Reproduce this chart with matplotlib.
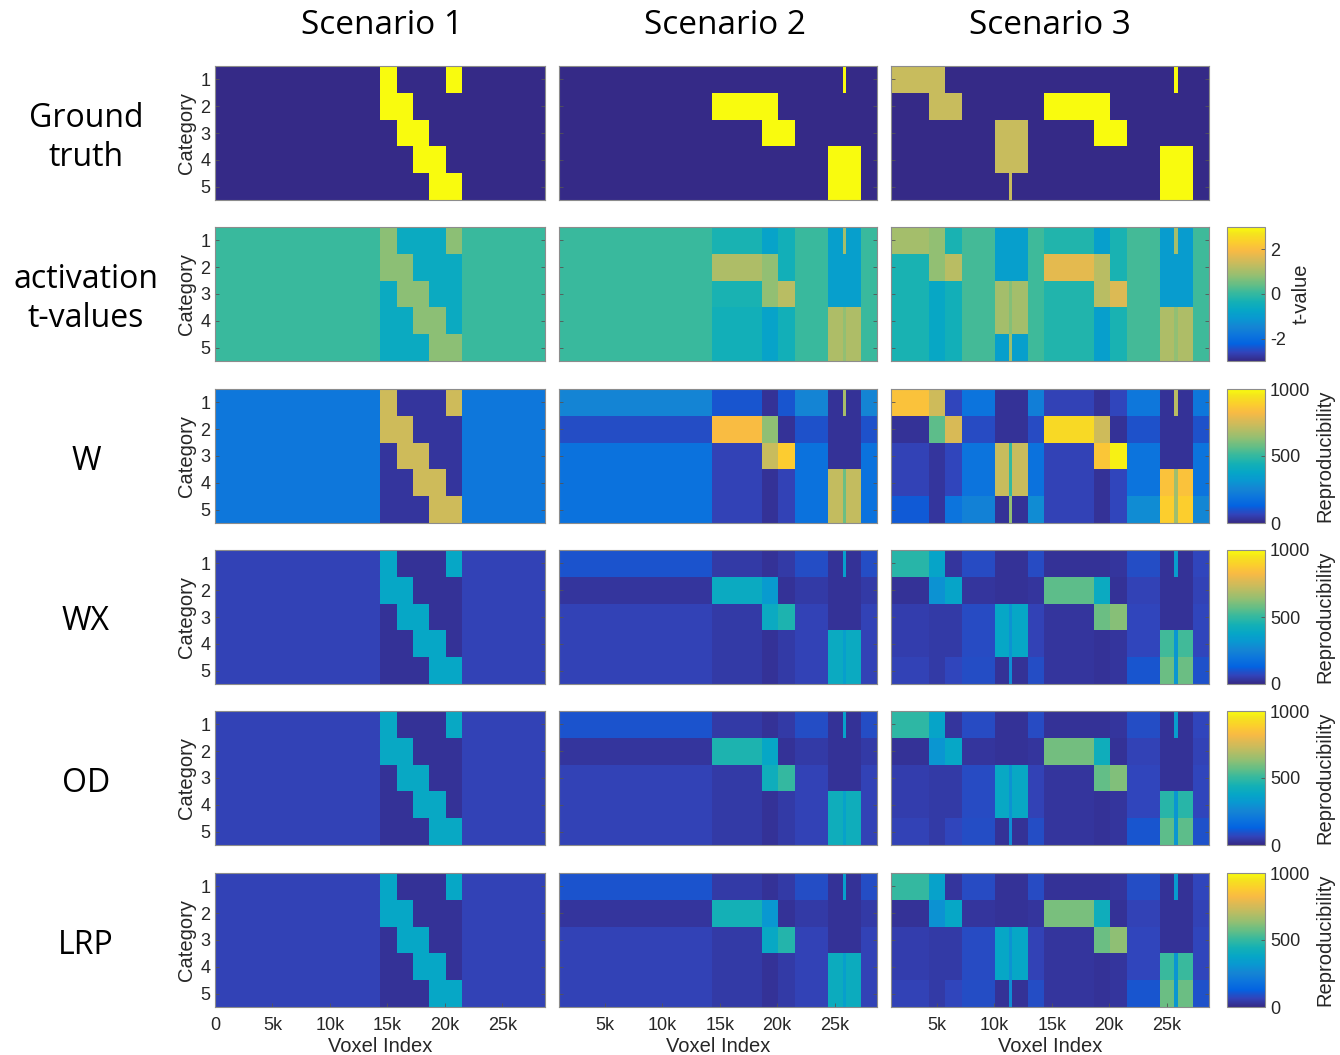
import matplotlib
matplotlib.use("Agg")
import matplotlib.pyplot as plt
from matplotlib.colors import LinearSegmentedColormap

# voxel segment edges per scenario (x range of each uniform block)
S1_EDGES = [0, 14360, 15790, 17220, 18650, 20080, 21510, 28700]
S2_EDGES = [1000, 14370, 18690, 20080, 21530, 24450, 25730, 26020, 27300, 28700]
S3_EDGES = [1000, 4290, 5700, 7210, 10040, 11290, 11580, 12920, 14370,
            18680, 20110, 21530, 24410, 25670, 26020, 27270, 28700]

# ground truth (0 = none, 0.73 = weak, 1 = strong), rows = category 1..5
GT_S1 = [[0, 1, 0, 0, 0, 1, 0],
         [0, 1, 1, 0, 0, 0, 0],
         [0, 0, 1, 1, 0, 0, 0],
         [0, 0, 0, 1, 1, 0, 0],
         [0, 0, 0, 0, 1, 1, 0]]
GT_S2 = [[0, 0, 0, 0, 0, 0, 1, 0, 0],
         [0, 1, 1, 0, 0, 0, 0, 0, 0],
         [0, 0, 1, 1, 0, 0, 0, 0, 0],
         [0, 0, 0, 0, 0, 1, 1, 1, 0],
         [0, 0, 0, 0, 0, 1, 1, 1, 0]]
GT_S3 = [[.73, .73, 0, 0, 0, 0, 0, 0, 0, 0, 0, 0, 0, 1, 0, 0],
         [0, .73, .73, 0, 0, 0, 0, 0, 1, 1, 0, 0, 0, 0, 0, 0],
         [0, 0, 0, 0, .73, .73, .73, 0, 0, 1, 1, 0, 0, 0, 0, 0],
         [0, 0, 0, 0, .73, .73, .73, 0, 0, 0, 0, 0, 1, 1, 1, 0],
         [0, 0, 0, 0, 0, .73, 0, 0, 0, 0, 0, 0, 1, 1, 1, 0]]

# activation t-values
TV_S1 = [[0.05, 0.75, -0.6, -0.6, -0.6, 0.75, 0.05],
         [0.05, 0.75, 0.75, -0.6, -0.6, -0.6, 0.05],
         [0.05, -0.6, 0.75, 0.75, -0.6, -0.6, 0.05],
         [0.05, -0.6, -0.6, 0.75, 0.75, -0.6, 0.05],
         [0.05, -0.6, -0.6, -0.6, 0.75, 0.75, 0.05]]
TV_S2 = [[0.05, -0.3, -0.8, -0.4, 0.05, -0.9, 1.0, -0.9, 0.05],
         [0.05, 1.1, 0.8, -0.4, 0.05, -0.9, -0.9, -0.9, 0.05],
         [0.05, -0.3, 0.8, 1.2, 0.05, -0.9, -0.9, -0.9, 0.05],
         [0.05, -0.4, -0.8, -0.4, 0.05, 1.1, 0.8, 1.1, 0.05],
         [0.05, -0.4, -0.8, -0.4, 0.05, 1.1, 0.8, 1.1, 0.05]]
TV_S3 = [[1.0, 0.8, -0.3, 0.15, -0.9, -0.9, -0.9, 0.1, -0.2, -0.9, -0.3, 0.15, -1.0, 1.0, -1.0, 0.1],
         [-0.3, 0.8, 1.2, 0.15, -0.9, -0.9, -0.9, 0.1, 1.7, 1.2, -0.3, 0.15, -1.0, -1.0, -1.0, 0.1],
         [-0.3, -0.7, -0.4, 0.15, 1.0, 0.7, 1.0, 0.1, -0.2, 1.2, 1.6, 0.15, -1.0, -1.0, -1.0, 0.1],
         [-0.3, -0.7, -0.4, 0.15, 1.0, 0.7, 1.0, 0.1, -0.2, -0.9, -0.3, 0.15, 1.1, 0.8, 1.1, 0.1],
         [-0.3, -0.7, -0.4, 0.15, -0.9, 0.9, -0.9, 0.1, -0.2, -0.9, -0.3, 0.15, 1.1, 0.8, 1.1, 0.1]]

# reproducibility maps
W_S1 = [[200, 740, 30, 30, 30, 740, 200],
        [200, 740, 740, 30, 30, 30, 200],
        [200, 30, 740, 740, 30, 30, 200],
        [200, 30, 30, 740, 740, 30, 200],
        [200, 30, 30, 30, 740, 740, 200]]
W_S2 = [[250, 100, 20, 100, 250, 20, 670, 20, 250],
        [85, 830, 630, 20, 90, 20, 20, 20, 90],
        [180, 60, 730, 880, 180, 20, 20, 20, 180],
        [180, 60, 20, 60, 180, 720, 580, 720, 180],
        [180, 60, 20, 60, 180, 720, 580, 720, 180]]
W_S3 = [[850, 740, 70, 190, 20, 20, 20, 230, 60, 20, 70, 200, 20, 700, 20, 200],
        [20, 560, 760, 80, 20, 20, 20, 80, 920, 740, 20, 90, 20, 20, 20, 90],
        [60, 30, 70, 190, 730, 500, 730, 180, 60, 860, 980, 190, 20, 20, 20, 190],
        [60, 30, 70, 190, 730, 500, 730, 180, 60, 20, 70, 190, 850, 660, 850, 190],
        [110, 30, 190, 240, 20, 640, 20, 280, 60, 20, 70, 280, 890, 660, 890, 260]]

WX_S1 = [[60, 380, 20, 20, 20, 380, 60],
         [60, 380, 380, 20, 20, 20, 60],
         [60, 20, 380, 380, 20, 20, 60],
         [60, 20, 20, 380, 380, 20, 60],
         [60, 20, 20, 20, 380, 380, 60]]
WX_S2 = [[95, 40, 20, 40, 85, 20, 350, 20, 85],
         [30, 400, 330, 20, 40, 20, 20, 20, 40],
         [60, 40, 400, 460, 60, 20, 20, 20, 60],
         [60, 40, 20, 40, 60, 400, 350, 400, 60],
         [60, 40, 20, 40, 60, 400, 350, 400, 60]]
WX_S3 = [[480, 370, 30, 80, 20, 20, 20, 80, 20, 20, 30, 85, 20, 340, 20, 70],
         [20, 300, 370, 30, 20, 20, 20, 30, 560, 400, 20, 60, 20, 20, 20, 60],
         [50, 40, 40, 80, 380, 300, 380, 60, 30, 580, 620, 70, 20, 20, 20, 70],
         [50, 40, 40, 80, 380, 300, 380, 60, 30, 20, 30, 70, 520, 310, 520, 70],
         [60, 40, 70, 85, 20, 280, 20, 85, 30, 20, 30, 100, 580, 310, 580, 90]]

OD_S1 = [[60, 390, 20, 20, 20, 390, 60],
         [60, 390, 390, 20, 20, 20, 60],
         [60, 20, 390, 390, 20, 20, 60],
         [60, 20, 20, 390, 390, 20, 60],
         [60, 20, 20, 20, 390, 390, 60]]
OD_S2 = [[95, 40, 20, 40, 85, 20, 360, 20, 85],
         [30, 460, 380, 20, 40, 20, 20, 20, 40],
         [60, 40, 420, 500, 60, 20, 20, 20, 60],
         [60, 40, 20, 40, 60, 420, 360, 420, 60],
         [60, 40, 20, 40, 60, 420, 360, 420, 60]]
OD_S3 = [[490, 370, 30, 80, 20, 20, 20, 80, 20, 20, 30, 85, 20, 340, 20, 70],
         [20, 310, 380, 30, 20, 20, 20, 30, 590, 420, 20, 60, 20, 20, 20, 60],
         [50, 40, 40, 80, 390, 300, 390, 60, 30, 570, 610, 70, 20, 20, 20, 70],
         [50, 40, 40, 80, 390, 300, 390, 60, 30, 20, 30, 70, 480, 310, 480, 70],
         [60, 40, 70, 85, 20, 280, 20, 85, 30, 20, 30, 100, 560, 310, 560, 90]]

LRP_S1 = [[60, 380, 20, 20, 20, 380, 60],
          [60, 380, 380, 20, 20, 20, 60],
          [60, 20, 380, 380, 20, 20, 60],
          [60, 20, 20, 380, 380, 20, 60],
          [60, 20, 20, 20, 380, 380, 60]]
LRP_S2 = [[95, 40, 20, 40, 85, 20, 350, 20, 85],
          [30, 440, 320, 20, 40, 20, 20, 20, 40],
          [60, 40, 390, 470, 60, 20, 20, 20, 60],
          [60, 40, 20, 40, 60, 410, 350, 410, 60],
          [60, 40, 20, 40, 60, 410, 350, 410, 60]]
LRP_S3 = [[500, 360, 30, 80, 20, 20, 20, 80, 20, 20, 30, 85, 20, 330, 20, 70],
          [20, 300, 380, 30, 20, 20, 20, 30, 600, 420, 20, 60, 20, 20, 20, 60],
          [50, 40, 40, 80, 380, 300, 380, 60, 30, 580, 630, 70, 20, 20, 20, 70],
          [50, 40, 40, 80, 380, 300, 380, 60, 30, 20, 30, 70, 510, 310, 510, 70],
          [60, 40, 70, 85, 20, 280, 20, 85, 30, 20, 30, 100, 580, 310, 580, 90]]

ROW_NAMES = ["Ground\ntruth", "activation\nt-values", "W", "WX", "OD", "LRP"]
SCENARIOS = ["Scenario 1", "Scenario 2", "Scenario 3"]
EDGES = [S1_EDGES, S2_EDGES, S3_EDGES]
MAPS = [[GT_S1, GT_S2, GT_S3],
        [TV_S1, TV_S2, TV_S3],
        [W_S1, W_S2, W_S3],
        [WX_S1, WX_S2, WX_S3],
        [OD_S1, OD_S2, OD_S3],
        [LRP_S1, LRP_S2, LRP_S3]]
LIMITS = [(0, 1), (-3, 3), (0, 1000), (0, 1000), (0, 1000), (0, 1000)]

# MATLAB parula, sampled
PARULA = [(0.2081, 0.1663, 0.5292), (0.1959, 0.2645, 0.7279), (0.0117, 0.3875, 0.8820),
          (0.0498, 0.4586, 0.8641), (0.0793, 0.5200, 0.8312), (0.0343, 0.5966, 0.8199),
          (0.0228, 0.6535, 0.7768), (0.0843, 0.6928, 0.7062), (0.2178, 0.7250, 0.6193),
          (0.3953, 0.7459, 0.5244), (0.5709, 0.7485, 0.4494), (0.7184, 0.7411, 0.3905),
          (0.8507, 0.7299, 0.3360), (0.9739, 0.7314, 0.2666), (0.9880, 0.8066, 0.1794),
          (0.9589, 0.8949, 0.1132), (0.9763, 0.9831, 0.0538)]
pos = [i / 63 for i in range(0, 61, 4)] + [1.0]
parula = LinearSegmentedColormap.from_list("parula", list(zip(pos, PARULA)))

W_PX, H_PX = 1340, 1055
ROW_TOPS = [66, 227, 389, 550, 711, 873]
ROW_H = 134
COL_LEFTS = [215, 559, 891]
COL_W = [330, 318, 318]
CB_LEFT, CB_W = 1227, 38
EDGE_COLOR = "#8c8c8c"
TICK_FONT = "Liberation Sans"
BIG_FONT = "Open Sans"


def rect(left, top, w, h):
    return [left / W_PX, 1 - (top + h) / H_PX, w / W_PX, h / H_PX]


fig = plt.figure(figsize=(W_PX / 100, H_PX / 100), dpi=100)

for r in range(6):
    vmin, vmax = LIMITS[r]
    for c in range(3):
        ax = fig.add_axes(rect(COL_LEFTS[c], ROW_TOPS[r], COL_W[c], ROW_H))
        mesh = ax.pcolormesh(EDGES[c], [0.5, 1.5, 2.5, 3.5, 4.5, 5.5], MAPS[r][c],
                             cmap=parula, vmin=vmin, vmax=vmax, shading="flat")
        ax.set_xlim(EDGES[c][0], EDGES[c][-1])
        ax.set_ylim(5.5, 0.5)
        ax.set_yticks([1, 2, 3, 4, 5])
        ax.tick_params(axis="both", direction="in", length=3, width=0.6,
                       color="#555555", labelsize=13, labelcolor="#262626",
                       left=True, right=True, top=False, bottom=(r == 5))
        ax.tick_params(axis="x", pad=7)
        for lab in ax.get_xticklabels() + ax.get_yticklabels():
            lab.set_fontfamily(TICK_FONT)
        if c == 0:
            ax.set_yticklabels(["1", "2", "3", "4", "5"], fontfamily=TICK_FONT)
            ax.set_ylabel("Category", fontsize=14.5, fontfamily=TICK_FONT,
                          color="#262626", labelpad=3)
        else:
            ax.set_yticklabels([])
        if r == 5:
            if c == 0:
                ticks = [0, 5000, 10000, 15000, 20000, 25000]
                labels = ["0", "5k", "10k", "15k", "20k", "25k"]
            else:
                ticks = [5000, 10000, 15000, 20000, 25000]
                labels = ["5k", "10k", "15k", "20k", "25k"]
            ax.set_xticks(ticks)
            ax.set_xticklabels(labels, fontfamily=TICK_FONT)
            ax.set_xlabel("Voxel Index", fontsize=14.5, fontfamily=TICK_FONT,
                          color="#262626", labelpad=2)
        else:
            ax.set_xticks([])
        for s in ax.spines.values():
            s.set_color(EDGE_COLOR)
            s.set_linewidth(0.8)

    if r > 0:
        cax = fig.add_axes(rect(CB_LEFT, ROW_TOPS[r], CB_W, ROW_H))
        cb = fig.colorbar(mesh, cax=cax)
        if r == 1:
            cb.set_ticks([-2, 0, 2])
            cb.set_ticklabels(["-2", "0", "2"])
            cb.set_label("t-value", fontsize=14.5, fontfamily=TICK_FONT, color="#262626")
        else:
            cb.set_ticks([0, 500, 1000])
            cb.set_ticklabels(["0", "500", "1000"])
            cb.set_label("Reproducibility", fontsize=14.5, fontfamily=TICK_FONT,
                         color="#262626")
        cax.tick_params(direction="in", length=3, width=0.6, color="#555555",
                        labelsize=13, labelcolor="#262626")
        for lab in cax.get_yticklabels():
            lab.set_fontfamily(TICK_FONT)
        cb.outline.set_edgecolor(EDGE_COLOR)
        cb.outline.set_linewidth(0.8)

    fig.text(86 / W_PX, 1 - (ROW_TOPS[r] + ROW_H / 2 + 5) / H_PX, ROW_NAMES[r],
             ha="center", va="center", fontsize=23, fontfamily=BIG_FONT,
             linespacing=1.25)

for c, xc in enumerate([382, 725, 1050]):
    fig.text(xc / W_PX, 1 - 26 / H_PX, SCENARIOS[c], ha="center", va="center",
             fontsize=24, fontfamily=BIG_FONT)

fig.savefig("out.png", dpi=100)
